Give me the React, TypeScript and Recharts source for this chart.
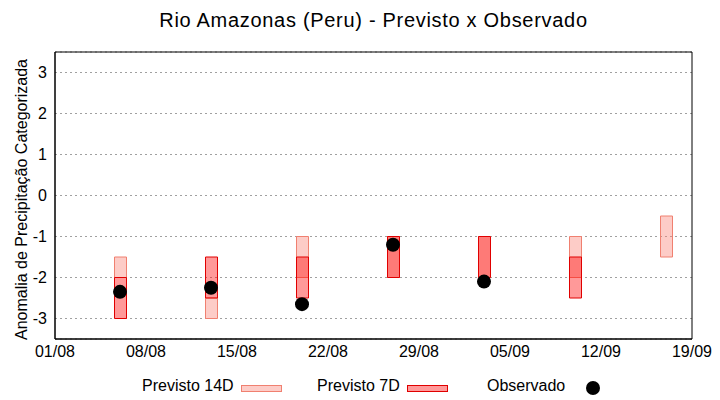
import { ComposedChart, Bar, Scatter, XAxis, YAxis, CartesianGrid } from "recharts";

const FONT = "'Liberation Sans', Arial, sans-serif";

const title = "Rio Amazonas (Peru) - Previsto x Observado";
const yTitle = "Anomalia de Precipitação Categorizada";

// x ticks, in days from 01/08
const tickDays = [0, 7, 14, 21, 28, 35, 42, 49];
const tickLabels = ["01/08", "08/08", "15/08", "22/08", "29/08", "05/09", "12/09", "19/09"];
const yTicks = [-3, -2, -1, 0, 1, 2, 3];

const dates = ["06/08", "13/08", "20/08", "27/08", "03/09", "10/09", "17/09"];
const prev14Low = [-2, -3, -2, -2, -2, -2, -1.5];
const prev14High = [-1.5, -2.5, -1, -1, -1, -1, -0.5];
const prev7Low = [-3, -2.5, -2.5, -2, -2, -2.5, null];
const prev7High = [-2, -1.5, -1.5, -1, -1, -1.5, null];
const observed = [-2.35, -2.25, -2.65, -1.2, -2.1, null, null];

const toDay = (s: string) => {
  const [d, m] = s.split("/").map(Number);
  return m === 8 ? d - 1 : 31 + d - 1;
};

const rows = dates.map((date, i) => ({
  day: toDay(date),
  p14: [prev14Low[i], prev14High[i]],
  p7: prev7Low[i] === null ? null : [prev7Low[i], prev7High[i]],
}));

const obsRows = dates
  .map((date, i) => ({ day: toDay(date), obs: observed[i] }))
  .filter((r) => r.obs !== null);

const FILL14 = "rgba(250,128,114,0.4)";
const STROKE14 = "#f08070";
const FILL7 = "rgba(255,0,0,0.4)";
const STROKE7 = "#e00000";

const renderYLabel = (props: any) => {
  const vb = props.viewBox || {};
  const cy = vb.y + vb.height / 2 + 4;
  return (
    <text
      x={21}
      y={cy}
      transform={`rotate(-90, 21, ${cy})`}
      textAnchor="middle"
      dominantBaseline="central"
      fontSize={16}
      fill="#000"
      fontFamily={FONT}
    >
      {yTitle}
    </text>
  );
};

const renderDot = (props: any) => <circle cx={props.cx} cy={props.cy} r={7} fill="#000" />;

const legendText = { position: "absolute" as const, top: 378, fontSize: 16, lineHeight: "16px", color: "#000" };

export default function App() {
  return (
    <div style={{ position: "absolute", left: 0, top: 0, width: 720, height: 400, background: "#fff", fontFamily: FONT }}>
      <ComposedChart
        width={720}
        height={400}
        data={rows}
        margin={{ top: 52, right: 28, bottom: 31, left: 0 }}
        style={{ fontFamily: FONT }}
      >
        <CartesianGrid vertical={false} stroke="#a0a0a0" strokeDasharray="2 3" />
        <XAxis
          dataKey="day"
          type="number"
          domain={[0, 49]}
          ticks={tickDays}
          interval={0}
          tickFormatter={(v) => tickLabels[tickDays.indexOf(v)]}
          tickLine={false}
          tickMargin={1}
          stroke="#000"
          tick={{ fill: "#000", fontSize: 16 }}
        />
        <XAxis xAxisId="b7" dataKey="day" type="number" domain={[0, 49]} hide />
        <XAxis
          xAxisId="bottomIn"
          type="number"
          domain={[0, 49]}
          ticks={tickDays}
          interval={0}
          orientation="bottom"
          mirror
          tick={false}
          tickSize={5}
          stroke="#000"
        />
        <XAxis
          xAxisId="topIn"
          type="number"
          domain={[0, 49]}
          ticks={tickDays}
          interval={0}
          orientation="top"
          mirror
          tick={false}
          tickSize={5}
          stroke="#000"
        />
        <YAxis
          type="number"
          domain={[-3.5, 3.5]}
          ticks={yTicks}
          interval={0}
          width={55}
          tickLine={false}
          stroke="#000"
          tick={{ fill: "#000", fontSize: 16 }}
          label={{ content: renderYLabel }}
        />
        <YAxis
          yAxisId="leftIn"
          type="number"
          domain={[-3.5, 3.5]}
          ticks={yTicks}
          interval={0}
          mirror
          tick={false}
          tickSize={5}
          stroke="#000"
        />
        <YAxis
          yAxisId="rightIn"
          type="number"
          orientation="right"
          domain={[-3.5, 3.5]}
          ticks={yTicks}
          interval={0}
          mirror
          tick={false}
          tickSize={5}
          stroke="#000"
        />
        <Bar dataKey="p14" barSize={12} fill={FILL14} stroke={STROKE14} isAnimationActive={false} />
        <Bar dataKey="p7" xAxisId="b7" barSize={12} fill={FILL7} stroke={STROKE7} isAnimationActive={false} />
        <Scatter data={obsRows} dataKey="obs" shape={renderDot} isAnimationActive={false} />
      </ComposedChart>

      <div
        style={{
          position: "absolute",
          left: 55,
          top: 10,
          width: 637,
          textAlign: "center",
          fontSize: 20,
          lineHeight: "20px",
          letterSpacing: "0.7px",
          color: "#000",
        }}
      >
        {title}
      </div>

      <span style={{ ...legendText, left: 142 }}>Previsto 14D</span>
      <div style={{ position: "absolute", left: 241, top: 385, width: 39, height: 5, background: FILL14, border: `1px solid ${STROKE14}` }} />
      <span style={{ ...legendText, left: 317 }}>Previsto 7D</span>
      <div style={{ position: "absolute", left: 407, top: 385, width: 39, height: 5, background: FILL7, border: `1px solid ${STROKE7}` }} />
      <span style={{ ...legendText, left: 487 }}>Observado</span>
      <div style={{ position: "absolute", left: 586, top: 381, width: 14, height: 14, borderRadius: 7, background: "#000" }} />
    </div>
  );
}
